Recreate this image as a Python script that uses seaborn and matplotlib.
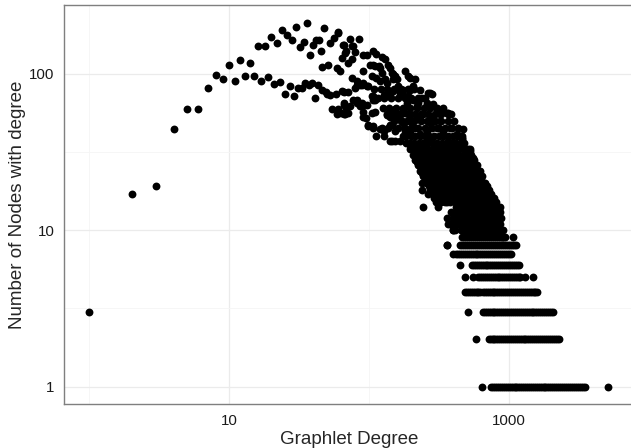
import matplotlib
matplotlib.use("Agg")
import matplotlib.pyplot as plt
from matplotlib.ticker import FixedLocator, NullFormatter
import seaborn as sns
import pandas as pd

# low degrees
head_degree = [1, 2, 3, 4, 5, 6, 7, 8, 9, 10, 11, 12, 13, 14, 15, 16, 17, 18, 19, 20,
               21, 22, 23, 24, 25, 26, 27, 28, 29, 30, 31, 32, 33, 34, 35, 36, 37, 38, 39, 40,
               41, 42, 43, 44, 45, 46, 46, 48, 49, 50, 51, 53, 56, 60, 65, 64, 59, 62, 64, 58,
               54, 60, 59, 66, 66, 53]
head_count = [3, 17, 19, 44, 59, 59, 81, 98, 92, 114, 90, 122, 97, 116, 97, 150, 90, 150, 95, 171,
              86, 157, 88, 191, 74, 176, 83, 164, 72, 199, 81, 147, 81, 159, 87, 209, 85, 132, 87, 153,
              70, 163, 84, 163, 140, 110, 79, 196, 76, 74, 114, 157, 169, 182, 153, 126, 109, 103, 77, 74,
              59, 59, 55, 63, 55, 73]

# cloud, counts >= 60
upper_degree = [60, 73, 85, 66, 76, 68, 79, 75, 71, 91, 97, 107, 113, 123, 130, 137, 141, 145, 102, 110,
                120, 123, 90, 105, 113, 130, 153, 158, 162, 181, 191, 213, 207, 231, 265, 280, 75, 82, 86, 91,
                96, 79, 66, 71, 107, 110, 127, 137, 149, 166, 176, 191, 207, 225, 238, 258, 288, 73, 77, 82,
                89, 67, 77, 149, 196, 107, 117, 120, 134, 149, 166, 176, 196, 273, 82, 89, 99, 82, 89, 96,
                105, 107, 141, 186, 219, 258, 66, 69, 86]
upper_count = [185, 165, 165, 152, 150, 139, 138, 123, 117, 131, 132, 140, 134, 127, 123, 114, 109, 101, 113, 111,
               109, 101, 104, 96, 94, 92, 96, 92, 83, 104, 96, 92, 83, 79, 75, 74, 94, 89, 85, 87,
               83, 81, 76, 76, 72, 68, 73, 75, 77, 79, 73, 72, 68, 65, 70, 65, 64, 62, 68, 65,
               62, 136, 150, 99, 94, 114, 111, 89, 87, 92, 75, 79, 79, 75, 85, 85, 83, 68, 65, 63,
               72, 68, 72, 65, 62, 63, 65, 60, 62]

# cloud, counts 30-59
middle_degree = [91, 95, 67, 71, 105, 110, 99, 107, 120, 127, 137, 145, 141, 149, 162, 171, 181, 196, 202, 219,
                 244, 273, 296, 321, 369, 113, 127, 145, 166, 153, 181, 196, 213, 231, 258, 273, 304, 340, 379, 423,
                 459, 472, 202, 219, 244, 265, 280, 304, 340, 369, 400, 447, 526, 251, 340, 423, 153, 141, 134, 162,
                 176, 304, 359, 63, 91, 99, 107, 123, 141, 176, 196, 231, 273, 321, 141, 153, 196, 273, 389, 459,
                 400, 526, 423]
middle_count = [57, 52, 55, 56, 56, 57, 46, 45, 44, 43, 45, 47, 55, 57, 55, 50, 56, 55, 48, 52,
                55, 52, 50, 55, 56, 40, 40, 37, 37, 43, 43, 42, 45, 41, 43, 39, 45, 43, 45, 41,
                38, 44, 35, 33, 35, 37, 32, 34, 35, 37, 33, 34, 32, 30, 30, 30, 59, 53, 54, 53,
                59, 59, 56, 56, 53, 47, 46, 45, 47, 48, 51, 51, 48, 50, 37, 37, 35, 30, 55, 39,
                36, 33, 32]

# cloud, counts below 30
lower_degree = [225, 273, 304, 379, 498, 556, 231, 258, 288, 321, 359, 400, 459, 526, 588, 238, 258, 288, 321, 349,
                389, 435, 472, 556, 238, 265, 304, 340, 369, 423, 472, 526, 588, 244, 313, 359, 389, 435, 498, 556,
                604, 359, 400, 447, 498, 556, 604, 231, 219, 251, 238, 258, 265, 288, 288, 359, 400, 379, 400, 472,
                572, 389, 447, 412, 389, 588, 732, 817, 862, 794, 656, 512, 621, 693, 500, 540, 450, 620, 650, 640,
                680, 450, 600, 560]
lower_count = [29, 27, 29, 29, 27, 29, 24, 25, 26, 24, 25, 24, 25, 25, 24, 20, 20, 21, 20, 21,
               19, 21, 19, 20, 18, 17, 18, 18, 16, 17, 18, 17, 19, 14, 14, 15, 13, 15, 14, 13,
               15, 12, 12, 11, 11, 12, 11, 29, 27, 27, 23, 21, 24, 22, 18, 8, 7, 11, 10, 29,
               25, 27, 26, 21, 16, 16, 14, 14, 14, 12, 11, 16, 24, 18, 22, 23, 19, 20, 17, 14,
               15, 17, 22, 16]

# dense core of the cloud: degrees seen at a given count
core_rows = {
    15: [300, 325, 350, 380, 410, 443, 478, 516, 557, 602, 650, 702, 758, 810],
    16: [290, 315, 340, 368, 397, 429, 463, 500, 540, 583, 630, 680, 734, 790],
    17: [285, 302, 326, 352, 380, 410, 443, 478, 516, 557, 602, 650, 702, 750],
    18: [275, 292, 315, 340, 367, 396, 428, 462, 499, 539, 582, 629, 680, 720],
    19: [270, 286, 309, 334, 361, 390, 421, 455, 491, 530, 572, 618, 668, 700],
    20: [260, 275, 297, 321, 347, 375, 405, 437, 472, 510, 551, 595, 643, 680],
    21: [255, 270, 292, 315, 340, 367, 396, 428, 462, 499, 539, 582, 629],
    22: [245, 259, 280, 302, 326, 352, 380, 410, 443, 478, 516, 557, 602, 640],
    24: [235, 248, 268, 290, 313, 338, 365, 394, 426, 460, 497, 537, 580, 610],
    26: [225, 238, 257, 278, 300, 324, 350, 378, 408, 441, 476, 514, 555, 590],
    28: [215, 227, 245, 265, 286, 309, 334, 361, 390, 421, 455, 491, 530, 560],
    30: [205, 216, 233, 252, 272, 294, 318, 343, 370, 400, 432, 467, 504, 540],
    33: [195, 205, 222, 240, 259, 280, 302, 326, 352, 380, 410, 443, 478, 510],
    36: [185, 195, 210, 227, 245, 265, 286, 309, 334, 361, 390, 421, 455, 480],
    40: [175, 184, 199, 215, 232, 250, 270, 292, 315, 340, 367, 396, 428, 462],
    45: [160, 180, 200, 225, 250, 280, 315, 350, 390, 435],
    50: [150, 168, 188, 210, 235, 262, 293, 328, 366, 405],
    55: [135, 152, 170, 190, 212, 237, 265, 296, 330, 370],
    60: [125, 140, 157, 176, 197, 220, 246, 275, 307, 340],
    70: [115, 129, 144, 161, 180, 201, 225, 250],
    80: [108, 121, 135, 151, 169, 189, 211],
}

# tail: degrees seen on each low-count row
deg_c1 = [641, 752, 776, 800, 825, 850, 877, 905, 935, 965, 997, 1030, 1065, 1100, 1135, 1170, 1210,
          1250, 1290, 1330, 1375, 1420, 1465, 1510, 1560, 1610, 1665, 1720, 1775, 1830, 1890, 1950,
          2015, 2080, 2150, 2220, 2295, 2370, 2445, 2520, 2605, 2690, 2780, 2870, 2965, 3060, 3160,
          3260, 3375, 3490, 5100]
deg_c2 = [578, 720, 742, 765, 790, 815, 842, 870, 897, 925, 955, 985, 1017, 1050, 1085, 1120, 1157,
          1195, 1235, 1275, 1317, 1360, 1405, 1450, 1497, 1545, 1597, 1650, 1705, 1760, 1817, 1875,
          1937, 2000, 2070, 2140, 2207, 2275]
deg_c3 = [511, 651, 673, 695, 717, 740, 765, 790, 815, 840, 867, 895, 925, 955, 987, 1020, 1055,
          1090, 1125, 1160, 1200, 1240, 1280, 1320, 1365, 1410, 1455, 1500, 1550, 1600, 1655, 1710,
          1765, 1820, 1880, 1940, 2000, 2060]
deg_c4 = [485, 501, 518, 535, 553, 571, 590, 605, 621, 650, 671, 693, 716, 740, 765, 790, 816, 842,
          870, 898, 928, 958, 990, 1022, 1056, 1090, 1126, 1163, 1201, 1240, 1281, 1323, 1367, 1411,
          1458, 1505, 1552, 1600]
deg_c5 = [485, 552, 601, 621, 641, 662, 684, 707, 730, 754, 779, 805, 831, 858, 886, 915, 945, 976,
          1008, 1041, 1075, 1111, 1147, 1175, 1199, 1300, 1484]
deg_c6 = [447, 544, 562, 580, 599, 619, 639, 660, 682, 704, 727, 751, 776, 801, 827, 854, 882, 911,
          941, 972, 1004, 1037, 1071, 1106, 1145, 1185]
deg_c7 = [418, 432, 446, 461, 476, 492, 508, 525, 542, 560, 578, 597, 617, 637, 658, 680, 702, 725,
          749, 774, 799, 825, 852, 880, 909, 939, 970, 1005, 1040]
deg_c8 = [359, 447, 463, 480, 496, 512, 530, 548, 566, 585, 605, 625, 646, 668, 690, 713, 737, 762,
          788, 814, 841, 869, 898, 928, 959, 991, 1024, 1058, 1090, 1122]
deg_c9 = [462, 477, 493, 510, 527, 545, 563, 582, 601, 621, 642, 664, 686, 709, 732, 757, 782, 808,
          835, 863, 892, 914, 936, 1069]
deg_c10 = [400, 411, 454, 469, 485, 501, 518, 535, 553, 571, 590, 610, 630, 651, 673, 696, 719, 743,
           768, 794, 820, 848, 876, 906]
deg_c11 = [367, 392, 420, 449, 480, 512, 547, 584, 624, 666, 711, 760, 811, 863]
deg_c12 = [430, 460, 492, 526, 562, 600, 641, 685, 732, 782, 835, 886]
deg_c13 = [420, 450, 481, 514, 549, 586, 626, 669, 714, 763, 815, 870]
deg_c14 = [420, 450, 480, 512, 547, 584, 624, 666, 711, 760, 811]
tail_rows = [deg_c1, deg_c2, deg_c3, deg_c4, deg_c5, deg_c6, deg_c7,
             deg_c8, deg_c9, deg_c10, deg_c11, deg_c12, deg_c13, deg_c14]

degree = head_degree + upper_degree + middle_degree + lower_degree
count = head_count + upper_count + middle_count + lower_count
for c, row in list(enumerate(tail_rows, start=1)) + list(core_rows.items()):
    degree += row
    count += [c] * len(row)
df = pd.DataFrame({"degree": degree, "count": count})

sns.set_style("white")
plt.rcParams['font.family'] = ['Liberation Sans', 'DejaVu Sans']

fig = plt.figure(figsize=(6.31, 4.48), dpi=100)
ax = fig.add_axes([64 / 631, 44 / 448, 570 / 631, 399 / 448])

sns.scatterplot(data=df, x="degree", y="count", color="black", s=32,
                linewidth=0, ax=ax, zorder=3)

ax.set_xscale("log")
ax.set_yscale("log")
ax.set_xlim(0.657, 7870)
ax.set_ylim(0.773, 274)

ax.xaxis.set_major_locator(FixedLocator([10, 1000]))
ax.xaxis.set_minor_locator(FixedLocator([1, 100, 10000]))
ax.yaxis.set_major_locator(FixedLocator([1, 10, 100]))
ax.yaxis.set_minor_locator(FixedLocator([10 ** 0.5, 10 ** 1.5, 10 ** 2.5]))
ax.set_xticklabels(["10", "1000"])
ax.set_yticklabels(["1", "10", "100"])
ax.xaxis.set_minor_formatter(NullFormatter())
ax.yaxis.set_minor_formatter(NullFormatter())

ax.grid(which="major", color="#ebebeb", linewidth=0.9, zorder=0)
ax.grid(which="minor", color="#f5f5f5", linewidth=0.6, zorder=0)
ax.set_axisbelow(True)

for s in ax.spines.values():
    s.set_color("#7f7f7f")
    s.set_linewidth(1.0)

ax.tick_params(which="major", length=4.5, width=0.8, color="#333333",
               labelsize=10.8, labelcolor="#1a1a1a", pad=2.5)
ax.tick_params(which="minor", length=0)

ax.set_xlabel("Graphlet Degree", fontsize=13.5, labelpad=2)
ax.set_ylabel("Number of Nodes with degree", fontsize=13.5, labelpad=2)

fig.savefig("out.png", dpi=100)
